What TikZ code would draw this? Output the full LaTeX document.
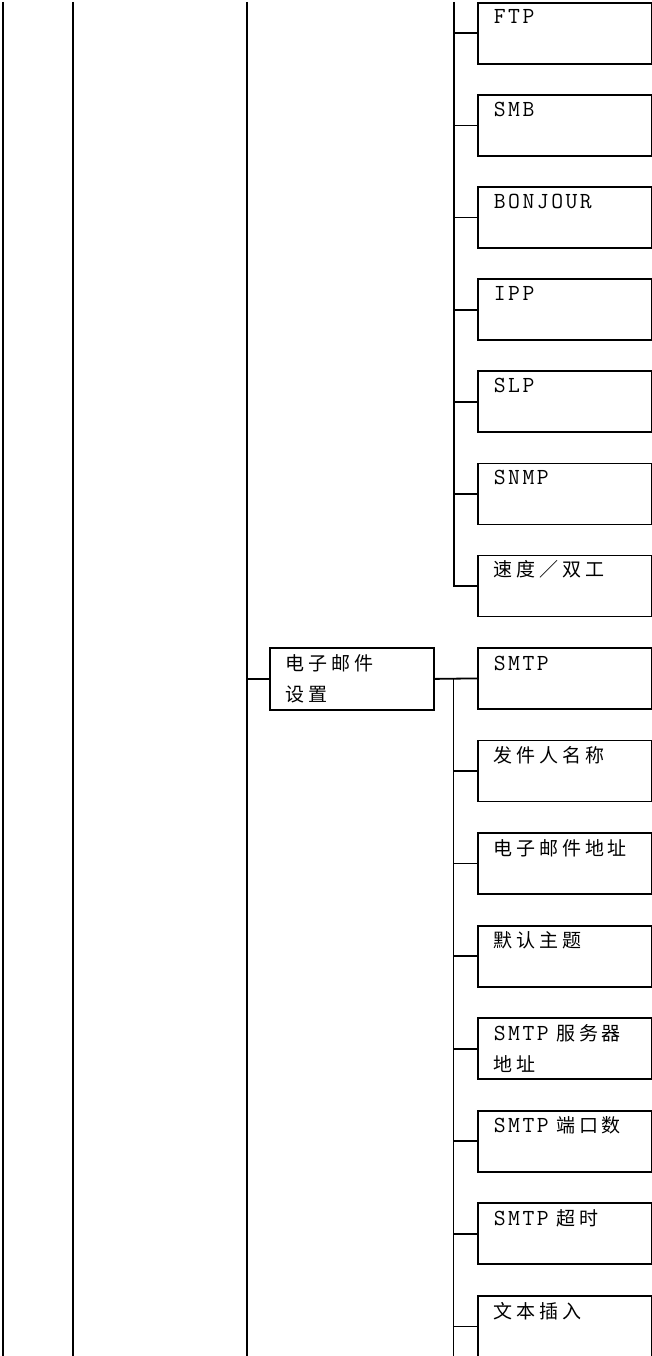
\documentclass[tikz,border=0pt]{standalone}
\usepackage{fontspec}
\newfontfamily\cjkf{Noto Sans CJK SC}[LetterSpace=20]
\def\spcloop#1{\ifx#1\relax\else#1\kern2.5pt\expandafter\spcloop\fi}
\newcommand\LT[1]{{\ttfamily\fontsize{23}{25}\selectfont\spcloop#1\relax}}
\newcommand\CJ[1]{{\cjkf\fontsize{19}{25}\selectfont #1}}
\begin{document}
\begin{tikzpicture}[x=1pt,y=-1pt,line width=1.8pt,
  box/.style={draw,line width=1.8pt,minimum width=173.5pt,minimum height=61pt,anchor=north west,inner sep=0pt},
  ebox/.style={draw,line width=1.8pt,minimum width=164pt,minimum height=62pt,anchor=north west,inner sep=0pt},
  txt/.style={anchor=base west,inner sep=0pt}]
\useasboundingbox (0,0) rectangle (652,1356);
% outer trunk lines
\coordinate (c1t) at (3,2);   \coordinate (c1b) at (3,1356);
\coordinate (c2t) at (73,2);  \coordinate (c2b) at (73,1356);
\coordinate (c3t) at (247,2); \coordinate (c3b) at (247,1356);
\draw (c1t) -- (c1b);
\draw (c2t) -- (c2b);
\draw (c3t) -- (c3b);
% group 1
\coordinate (tA) at (454,2);
\foreach \i/\lab in {0/{\LT{FTP}},1/{\LT{SMB}},2/{\LT{BONJOUR}},3/{\LT{IPP}},4/{\LT{SLP}},5/{\LT{SNMP}},6/{\CJ{速度／双工}}}{
  \pgfmathsetmacro\tp{2+92.1*\i}
  \node[box] (g\i) at (477,\tp) {};
  \node[txt] (gt\i) at (493,\tp+22) {\lab};
  \draw (g\i.west) -- (g\i.west -| tA);
}
\draw (tA) |- (g6.west);
% email settings
\node[ebox] (em) at (269,647) {};
\node[txt] (emt1) at (285,670) {\CJ{电子邮件}};
\node[txt] (emt2) at (285,701) {\CJ{设置}};
\draw (em.west) -- (em.west -| c3t);
\coordinate (tB) at (453.5,1356);
\foreach \i/\lab in {0/{\LT{SMTP}},1/{\CJ{发件人名称}},2/{\CJ{电子邮件地址}},3/{\CJ{默认主题}},4/{\LT{SMTP}\hspace{5pt}\CJ{服务器}},5/{\LT{SMTP}\hspace{5pt}\CJ{端口数}},6/{\LT{SMTP}\hspace{5pt}\CJ{超时}},7/{\CJ{文本插入}}}{
  \pgfmathsetmacro\tp{647+92.57*\i}
  \node[box] (s\i) at (477,\tp) {};
  \node[txt] (st\i) at (493,\tp+23) {\lab};
  \draw (s\i.west) -- (s\i.west -| tB);
}
\node[txt] (st4b) at (493,1017.3+54) {\CJ{地址}};
\draw (em.east) -- (s0.west);
\draw (em.east -| tB) -- (tB);
\end{tikzpicture}
\end{document}
